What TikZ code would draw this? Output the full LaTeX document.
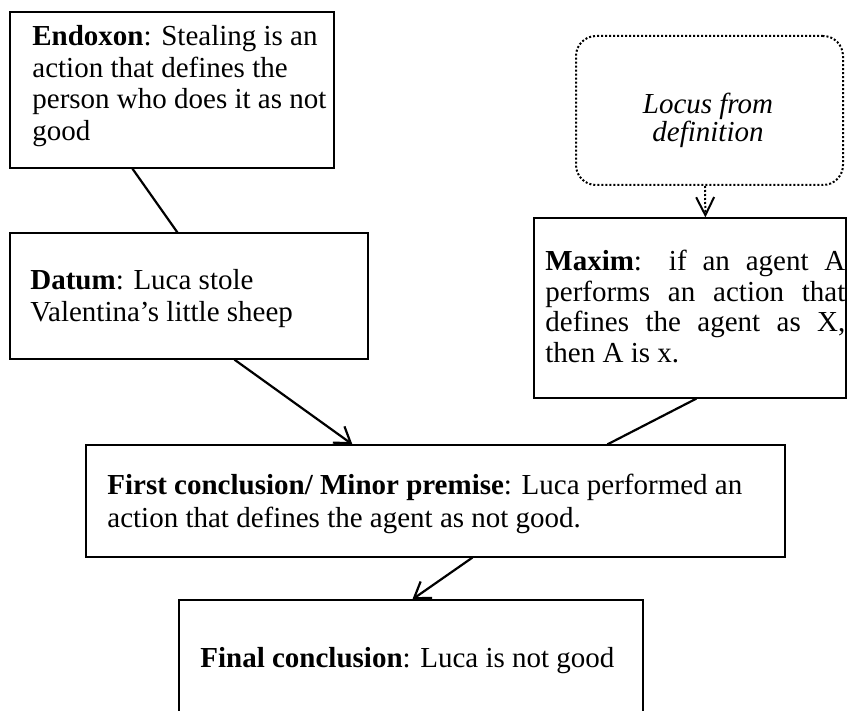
\documentclass[tikz,border=0pt]{standalone}
\usepackage{fontspec}
\setmainfont{Liberation Serif}
\usetikzlibrary{arrows.meta}
\begin{document}
\begin{tikzpicture}[x=0.5pt,y=-0.5pt,
  box/.style={draw, line width=0.6pt, inner sep=0pt},
  dotbox/.style={draw, line width=1pt, dash pattern=on 1pt off 1pt, rounded corners=10pt, inner sep=0pt},
  txt/.style={inner sep=0pt, anchor=base west, align=left},
  link/.style={line width=1.1pt},
  arr/.style={link, -{Straight Barb[length=7.5pt,width=10pt,line width=1.1pt]}},
  dotarr/.style={line width=1pt, dash pattern=on 1pt off 1pt,
    -{Straight Barb[length=9pt,width=9pt,line width=1pt,sep=0pt]}}
]
\useasboundingbox (0,0) rectangle (848,711);
\clip (0,0) rectangle (848,711);

% boxes
\node[box, minimum width=162pt, minimum height=78pt] (endoxon) at (172,90) {};
\node[box, minimum width=179pt, minimum height=63pt] (datum) at (189,296) {};
\node[dotbox, minimum width=133.5pt, minimum height=74.5pt] (locus) at (709.5,110.5) {};
\node[box, minimum width=156pt, minimum height=90pt] (maxim) at (690,308) {};
\node[box, minimum width=349.5pt, minimum height=56pt] (first) at (435.5,501) {};
\node[box, minimum width=232pt, minimum height=80pt] (final) at (411,680) {};

% texts (multi-line nodes sit on the baseline of their last line)
\node[txt, font=\fontsize{14.5}{15.75}\selectfont] (endoxontext) at (32,140.5)
  {\textbf{Endoxon}: Stealing is an\\ action that defines the\\ person who does it as not\\ good};
\node[txt, font=\fontsize{14.5}{16}\selectfont] (datumtext) at (30,322)
  {\textbf{Datum}: Luca stole\\ Valentina’s little sheep};
\node[inner sep=0pt, anchor=base, align=center, font=\fontsize{14.5}{14}\selectfont\itshape] (locustext) at (708,142)
  {Locus from\\ definition};
\node[inner sep=0pt, anchor=base west, text width=150pt, align=justify, font=\fontsize{14.5}{15.25}\selectfont] (maximtext) at (545,271)
  {\textbf{Maxim}: if an agent A\linebreak performs an action that\linebreak defines the agent as X,\linebreak then A is x.};
\node[txt, font=\fontsize{14.5}{16.5}\selectfont] (firsttext) at (107,528)
  {\textbf{First conclusion/ Minor premise}: Luca performed an\\ action that defines the agent as not good.};
\node[txt, font=\fontsize{14.5}{16}\selectfont] (finaltext) at (200,668)
  {\textbf{Final conclusion}: Luca is not good};

% connectors
\draw[link] ([xshift=61.5pt]endoxon.south west) -- ([xshift=84pt]datum.north west);
\draw[arr] ([xshift=112.5pt]datum.south west) -- ([xshift=133.5pt]first.north west);
\draw[link] ([xshift=81.5pt]maxim.south west) -- ([xshift=261pt]first.north west);
\draw[dotarr] ([xshift=65pt]locus.south west) -- ([xshift=86pt]maxim.north west);
\draw[arr] ([xshift=193.5pt]first.south west) -- ([xshift=117pt]final.north west);
\end{tikzpicture}
\end{document}
